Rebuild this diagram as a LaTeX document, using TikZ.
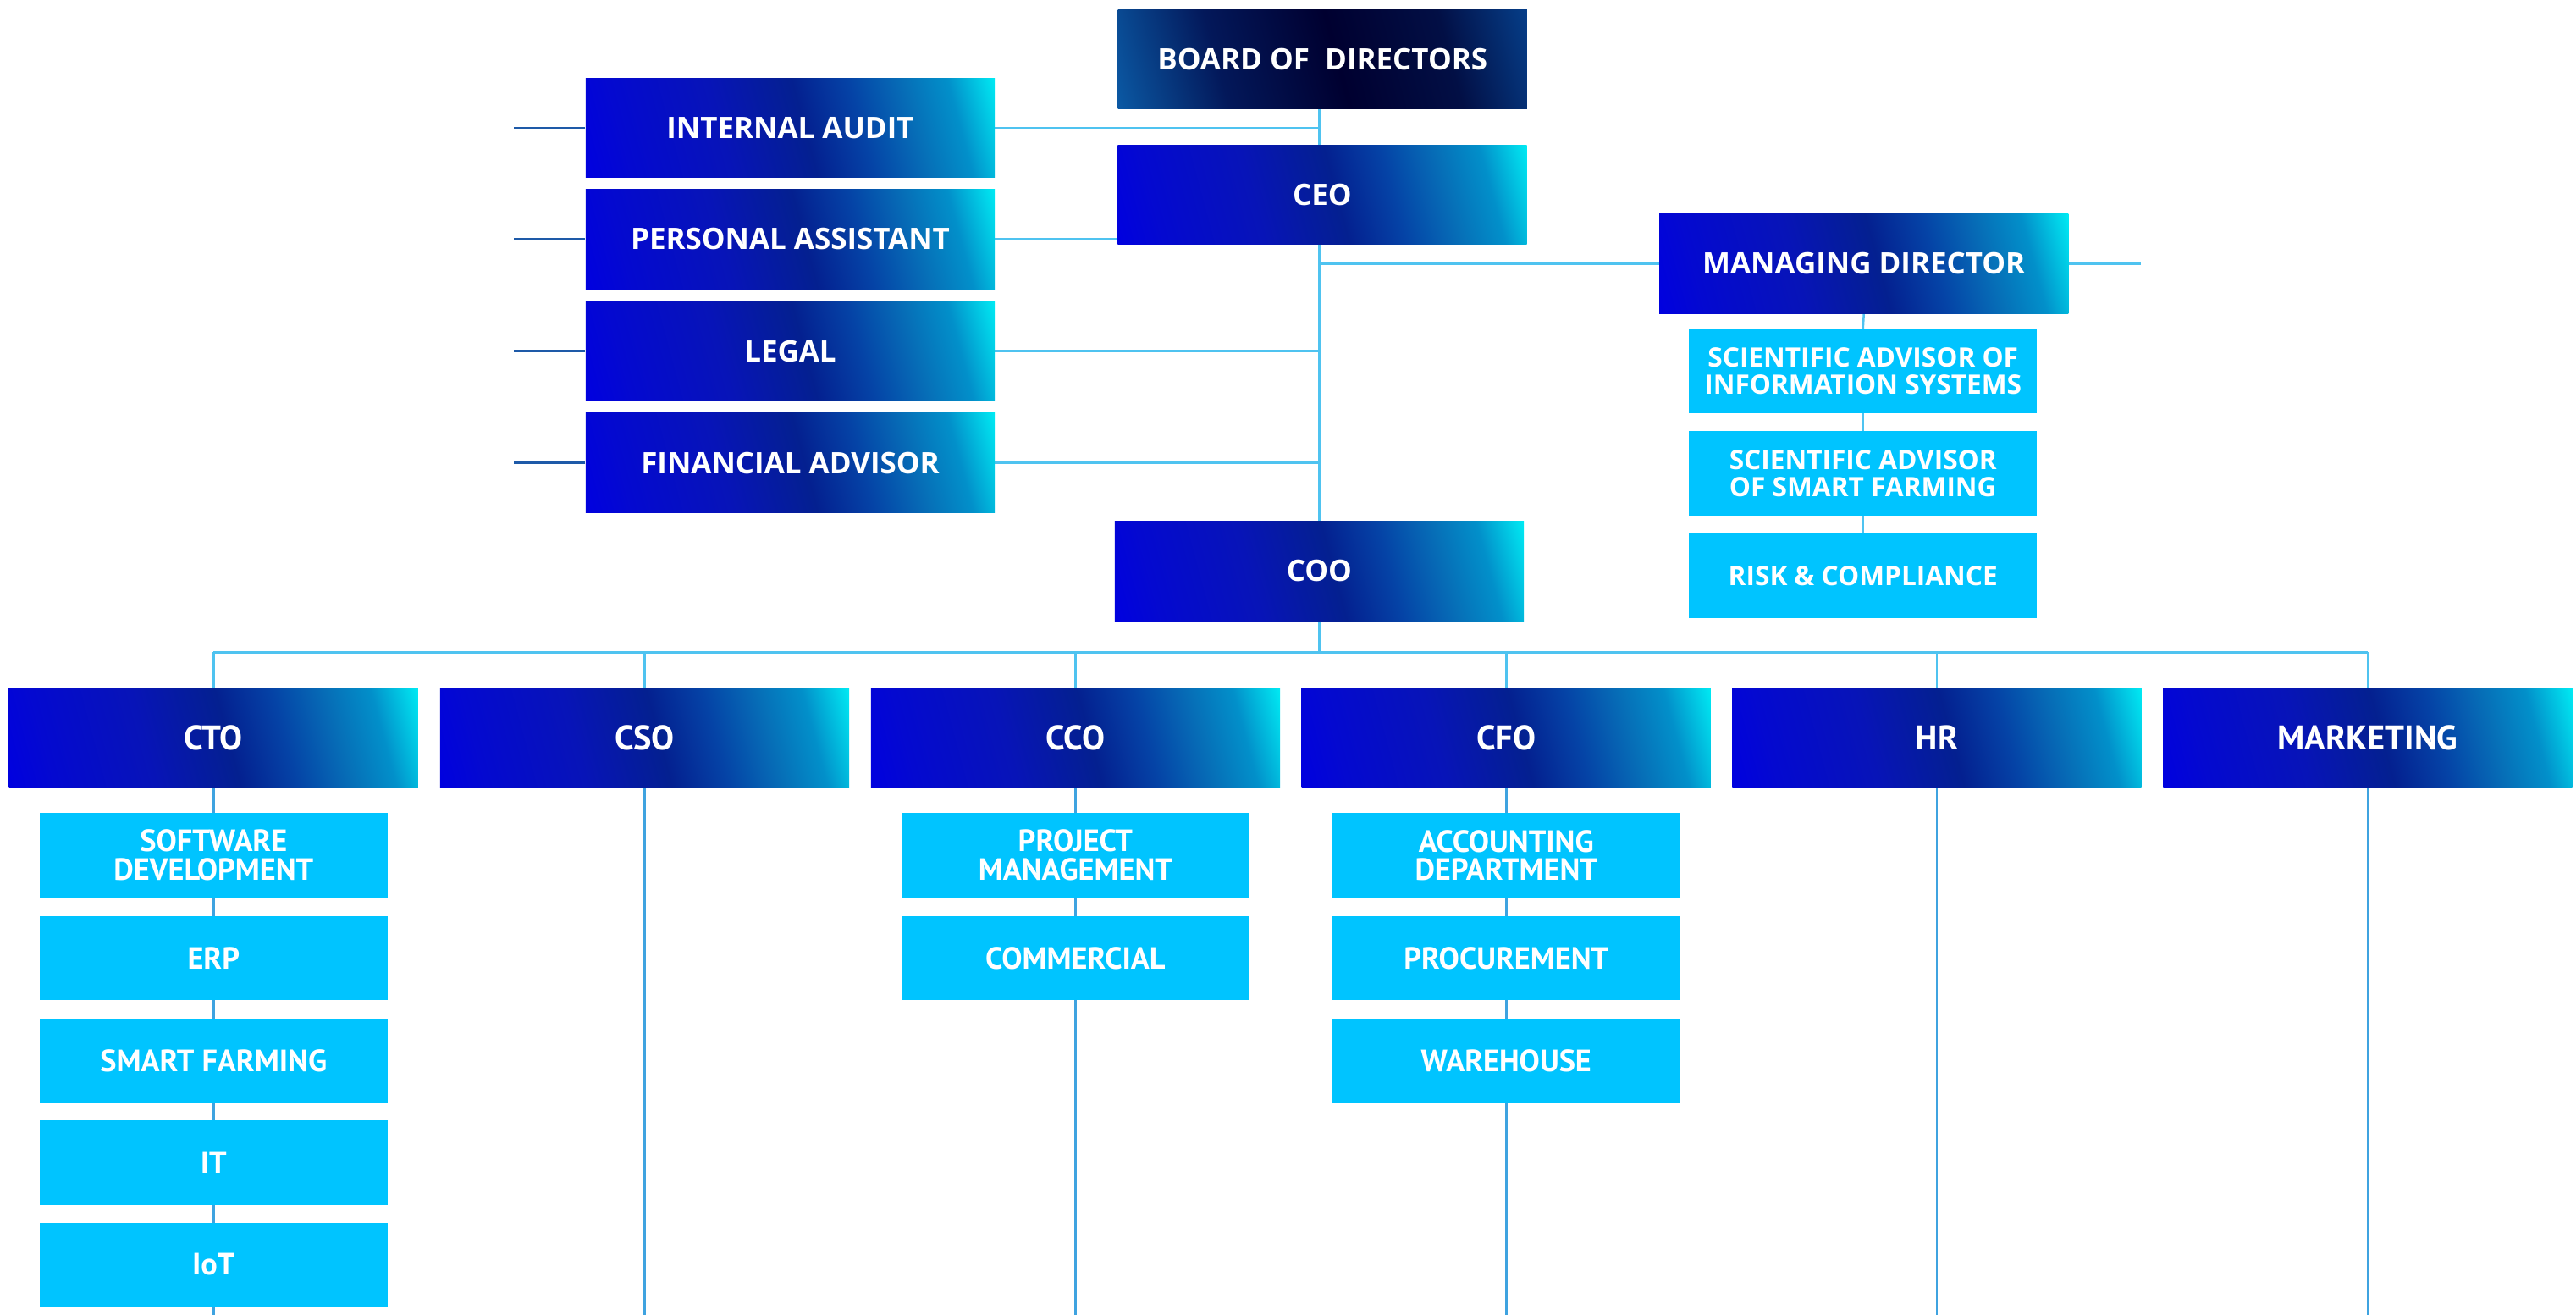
\documentclass[tikz,border=0pt]{standalone}
\usepackage{fontspec}
\setmainfont{PT Sans}
\newfontfamily\topf{Open Sans}
\pgfdeclarelayer{bg}
\pgfsetlayers{bg,main}

\definecolor{gA}{HTML}{0000E0}
\definecolor{gB}{HTML}{0409D0}
\definecolor{gC}{HTML}{0714B8}
\definecolor{gD}{HTML}{042090}
\definecolor{gE}{HTML}{0543A6}
\definecolor{gF}{HTML}{0670B8}
\definecolor{gG}{HTML}{0290CA}
\definecolor{gH}{HTML}{00EEF5}
\definecolor{dA}{HTML}{0B5AA5}
\definecolor{dB}{HTML}{03185A}
\definecolor{dC}{HTML}{000030}
\definecolor{dD}{HTML}{020F45}
\definecolor{dE}{HTML}{063F8A}
\definecolor{lightc}{HTML}{00C4FF}
\definecolor{lineblue}{HTML}{4FC3F0}
\definecolor{colblue}{HTML}{3FA3E0}
\definecolor{stubblue}{HTML}{1E5AA8}

\pgfdeclarehorizontalshading{bluegrad}{100bp}{color(0bp)=(gA); color(19bp)=(gA); color(26bp)=(gB); color(40bp)=(gC); color(52bp)=(gD); color(60bp)=(gE); color(68bp)=(gF); color(74bp)=(gG); color(81bp)=(gH); color(100bp)=(gH)}
\pgfdeclarehorizontalshading{darkgrad}{100bp}{color(0bp)=(dA); color(19bp)=(dA); color(35bp)=(dB); color(52bp)=(dC); color(68bp)=(dD); color(81bp)=(dE); color(100bp)=(dE)}

\tikzset{
  bigbox/.style={rectangle, inner sep=0pt, minimum width=249pt, minimum height=60.5pt,
    shading=bluegrad, shading angle=15, text=white, align=center,
    font=\topf\bfseries\fontsize{18}{22}\selectfont},
  boardbox/.style={bigbox, shading=darkgrad, shading angle=15},
  rowbox/.style={bigbox, font=\bfseries\fontsize{20.8}{22}\selectfont},
  subbox/.style={rectangle, inner sep=0pt, minimum width=212pt, minimum height=51.3pt,
    fill=lightc, text=white, align=center,
    font=\bfseries\fontsize{18.7}{17.4}\selectfont},
  advbox/.style={subbox, font=\topf\bfseries\fontsize{16.3}{16.6}\selectfont},
  conn/.style={draw=lineblue, line width=1.3pt},
  colconn/.style={draw=colblue, line width=1.3pt},
  stub/.style={draw=stubblue, line width=1.3pt}
}

\begin{document}
\begin{tikzpicture}[x=1pt,y=-1pt]
\useasboundingbox (0,0) rectangle (1568,800.2);

% top group
\node[boardbox] (board) at (805,36.2) {BOARD OF\ \ DIRECTORS};
\node[bigbox] (ceo) at (804.8,118.5) {CEO};
\node[bigbox] (ia) at (481,77.7) {INTERNAL AUDIT};
\node[bigbox] (pa) at (481,145.5) {PERSONAL ASSISTANT};
\node[bigbox] (legal) at (481,213.6) {LEGAL};
\node[bigbox] (fa) at (481,281.7) {FINANCIAL ADVISOR};
\node[bigbox] (md) at (1134.5,160.5) {MANAGING DIRECTOR};
\node[advbox] (adv1) at (1134,225.8) {SCIENTIFIC ADVISOR OF\\INFORMATION SYSTEMS};
\node[advbox] (adv2) at (1134,288) {SCIENTIFIC ADVISOR\\OF SMART FARMING};
\node[advbox] (adv3) at (1134,350.3) {RISK \& COMPLIANCE};
\node[bigbox] (coo) at (803,347.5) {COO};

% second level
\node[rowbox] (cto) at (130,449) {CTO};
\node[rowbox] (cso) at (392.4,449) {CSO};
\node[rowbox] (cco) at (654.6,449) {CCO};
\node[rowbox] (cfo) at (916.8,449) {CFO};
\node[rowbox] (hr) at (1179,449) {HR};
\node[rowbox] (mkt) at (1441.2,449) {MARKETING};

% CTO subs
\node[subbox] (sw) at (130,520.5) {SOFTWARE\\DEVELOPMENT};
\node[subbox] (erp) at (130,583) {ERP};
\node[subbox] (sf) at (130,645.5) {SMART FARMING};
\node[subbox] (it) at (130,707.5) {IT};
\node[subbox] (iot) at (130,769.5) {IoT};
% CCO subs
\node[subbox] (pm) at (654.6,520.5) {PROJECT\\MANAGEMENT};
\node[subbox] (com) at (654.6,583) {COMMERCIAL};
% CFO subs
\node[subbox] (acc) at (916.8,520.5) {ACCOUNTING\\DEPARTMENT};
\node[subbox] (proc) at (916.8,583) {PROCUREMENT};
\node[subbox] (wh) at (916.8,645.5) {WAREHOUSE};

% free ends
\coordinate (iaL) at (313,77.7);
\coordinate (paL) at (313,145.5);
\coordinate (legalL) at (313,213.6);
\coordinate (faL) at (313,281.7);
\coordinate (mdR) at (1303,160.5);
\coordinate (bus) at (0,397);
\coordinate (bottom) at (0,800.2);

\begin{pgfonlayer}{bg}
  % trunk
  \draw[conn] (board.south -| coo.north) -- (coo.north);
  \draw[conn] (ia.east) -- (ia.east -| coo.north);
  \draw[conn] (pa.east) -- (pa.east -| ceo.west);
  \draw[conn] (legal.east) -- (legal.east -| coo.north);
  \draw[conn] (fa.east) -- (fa.east -| coo.north);
  % left stubs
  \draw[stub] (ia.west) -- (iaL);
  \draw[stub] (pa.west) -- (paL);
  \draw[stub] (legal.west) -- (legalL);
  \draw[stub] (fa.west) -- (faL);
  % managing director
  \draw[conn] (md.west -| coo.north) -- (md.west);
  \draw[conn] (md.east) -- (mdR);
  \draw[conn] (md.south) -- (adv1.north);
  \draw[conn] (adv1.south) -- (adv2.north);
  \draw[conn] (adv2.south) -- (adv3.north);
  % COO to bus
  \draw[conn] (coo.south) -- (coo.south |- bus);
  \draw[conn] (cto.north |- bus) -- (mkt.north |- bus);
  \foreach \n in {cto,cso,cco,cfo,hr,mkt}{
    \draw[conn] (\n.north |- bus) -- (\n.north);
    \draw[colconn] (\n.south) -- (\n.south |- bottom);
  }
\end{pgfonlayer}
\end{tikzpicture}
\end{document}
